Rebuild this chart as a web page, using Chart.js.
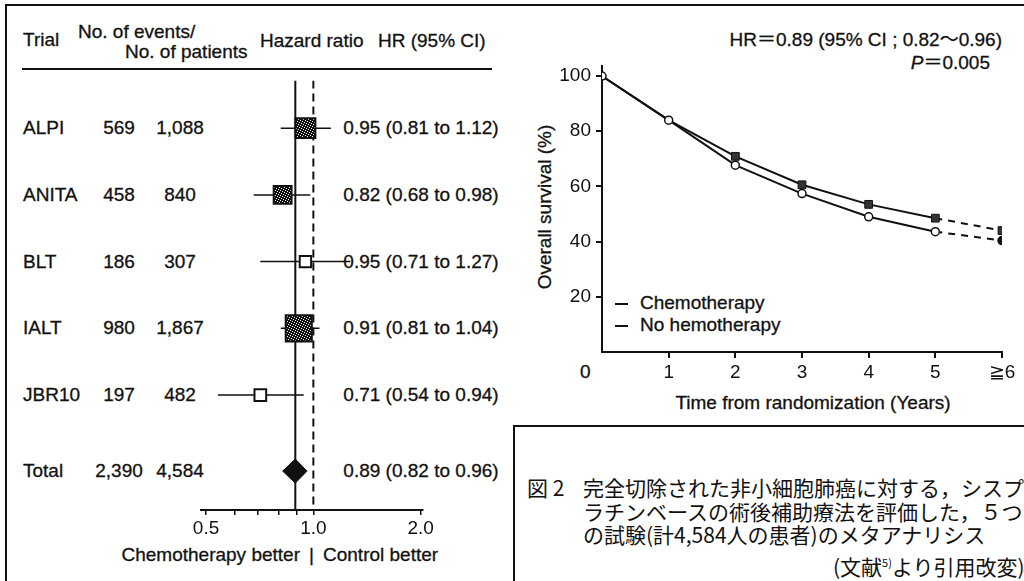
<!DOCTYPE html>
<html>
<head>
<meta charset="utf-8">
<script src="https://cdn.jsdelivr.net/npm/chart.js@4.4.0/dist/chart.umd.min.js"></script>
<style>
html, body { margin: 0; padding: 0; background: #fff; }
body {
  width: 1024px; height: 581px; position: relative; overflow: hidden;
  font-family: "Liberation Sans", Arial, "Noto Sans CJK JP", sans-serif;
  font-size: 19px; color: #111;
}
.t { position: absolute; white-space: nowrap; line-height: 22px; -webkit-text-stroke: 0.3px #111; }
.c { text-align: center; }
.r { text-align: right; }
.line { position: absolute; background: #111; }
#forestBox { position: absolute; left: 150px; top: 60px; width: 320px; height: 480px; }
#survBox { position: absolute; left: 520px; top: 50px; width: 504px; height: 342px; }
#caption {
  position: absolute; left: 513px; top: 425px; width: 530px; height: 200px;
  border: 2px solid #111; box-sizing: border-box;
}
.jp { font-family: "Noto Sans CJK JP", sans-serif; font-size: 21px; line-height: 23.5px; -webkit-text-stroke: 0; }
.key { display: inline-block; width: 13px; height: 2px; background: #111; vertical-align: middle; margin-right: 12px; }
</style>
</head>
<body>
<div class="line" style="left:5px;top:4px;width:1019px;height:2px"></div>
<div class="line" style="left:5px;top:4px;width:2px;height:577px"></div>

<!-- forest plot header -->
<div class="t" style="left:23px;top:29px">Trial</div>
<div class="t" style="left:78px;top:21px">No. of events/</div>
<div class="t" style="left:125px;top:41px">No. of patients</div>
<div class="t" style="left:260px;top:30px">Hazard ratio</div>
<div class="t" style="left:378px;top:30px">HR (95% CI)</div>
<div class="line" style="left:22px;top:68px;width:470px;height:2px"></div>
<div id="rows"></div>
<div class="t r" style="left:60px;top:544px;width:240px">Chemotherapy better</div>
<div class="t" style="left:309px;top:544px">|</div>
<div class="t" style="left:323px;top:544px">Control better</div>

<div id="forestBox"><canvas id="forest" width="320" height="480"></canvas></div>

<!-- survival plot texts -->
<div class="t r" style="left:602px;top:29px;width:400px">HR＝0.89 (95% CI ; 0.82～0.96)</div>
<div class="t r" style="left:602px;top:52px;width:388px"><i>P</i>＝0.005</div>
<div class="t c" style="left:395px;top:196px;width:300px;transform:rotate(-90deg)">Overall survival (%)</div>
<div class="t" style="left:615px;top:292px"><span class="key"></span>Chemotherapy</div>
<div class="t" style="left:615px;top:314px"><span class="key"></span>No hemotherapy</div>
<div class="t" style="left:580px;top:361px">0</div>
<div class="t c" style="left:613px;top:392px;width:400px">Time from randomization (Years)</div>

<div id="survBox"><canvas id="survival" width="504" height="342"></canvas></div>

<div id="caption"></div>
<div class="t jp" style="left:527px;top:476px">図 2</div>
<div class="t jp" style="left:583px;top:476px">完全切除された非小細胞肺癌に対する，シスプ</div>
<div class="t jp" style="left:583px;top:500px">ラチンベースの術後補助療法を評価した，５つ</div>
<div class="t jp" style="left:583px;top:523px">の試験(計4,584人の患者)のメタアナリシス</div>
<div class="t jp" style="left:833px;top:551px">(文献<sup style="font-size:11px">5)</sup>より引用改変)</div>

<script>
// forest plot data
const trials = ["ALPI", "ANITA", "BLT", "IALT", "JBR10"]
const events = [569, 458, 186, 980, 197]
const patients = [1088, 840, 307, 1867, 482]
const hr = [0.95, 0.82, 0.95, 0.91, 0.71]
const ciLow = [0.81, 0.68, 0.71, 0.81, 0.54]
const ciHigh = [1.12, 0.98, 1.27, 1.04, 0.94]
const totalEvents = 2390
const totalPatients = 4584
const totalHr = 0.89
const totalLow = 0.82
const totalHigh = 0.96
const hrTicks = [0.5, 0.6, 0.7, 0.8, 0.9, 1.0, 2.0]
const hrTickLabels = ["0.5", "", "", "", "", "1.0", "2.0"]

// survival curve data
const years = [0, 1, 2, 3, 4, 5, 6]
const yearLabels = ["0", "1", "2", "3", "4", "5", "≧6"]
const chemo = [100, 84, 70.9, 60.6, 53.5, 48.5, 44.0]
const noChemo = [100, 84, 67.7, 57.4, 49.0, 43.6, 40.4]
const survivalTicks = [20, 40, 60, 80, 100]

const INK = "#111"
const FONT = { family: "Liberation Sans", size: 19 }
const totalRow = trials.length + 0.14
const yMin = -0.715, yMax = 5.723

// speckled fill like the printed squares
const pc = document.createElement("canvas")
pc.width = pc.height = 5
const pg = pc.getContext("2d")
pg.fillStyle = INK
pg.fillRect(0, 0, 5, 5)
pg.fillStyle = "#fff"
;[[0, 0], [2, 1], [4, 2], [1, 3], [3, 4]].forEach(([a, b]) => pg.fillRect(a, b, 1, 1))
const speckle = pg.createPattern(pc, "repeat")

const sizes = events.map((e) => 0.59 * Math.sqrt(e))

const ciSets = trials.map((t, i) => ({
  type: "line",
  order: 2,
  data: [{ x: ciLow[i], y: i }, { x: ciHigh[i], y: i }],
  borderColor: INK,
  borderWidth: 1.5,
  pointRadius: 0,
}))

const forest = new Chart(document.getElementById("forest"), {
  type: "scatter",
  data: {
    datasets: [
      {
        order: 0,
        data: trials.map((t, i) => ({ x: hr[i], y: i })),
        pointStyle: "rect",
        pointRadius: sizes,
        backgroundColor: sizes.map((s) => (s > 10 ? speckle : "#fff")),
        borderColor: INK,
        borderWidth: 2,
      },
      {
        type: "line",
        order: 1,
        data: [
          { x: totalLow, y: totalRow },
          { x: totalHr, y: totalRow - 0.18 },
          { x: totalHigh, y: totalRow },
          { x: totalHr, y: totalRow + 0.18 },
          { x: totalLow, y: totalRow },
        ],
        borderColor: INK,
        borderWidth: 1,
        backgroundColor: INK,
        fill: "shape",
        pointRadius: 0,
      },
      ...ciSets,
      {
        type: "line",
        order: 3,
        data: [{ x: totalHr, y: yMin }, { x: totalHr, y: yMax }],
        borderColor: INK,
        borderWidth: 2,
        pointRadius: 0,
      },
      {
        type: "line",
        order: 3,
        data: [{ x: 1, y: yMin }, { x: 1, y: yMax }],
        borderColor: INK,
        borderWidth: 2,
        borderDash: [8, 5],
        pointRadius: 0,
      },
    ],
  },
  options: {
    responsive: false,
    animation: false,
    devicePixelRatio: 1,
    layout: { padding: { top: 9, left: 51, right: 47, bottom: 0 } },
    plugins: { legend: { display: false }, tooltip: { enabled: false } },
    scales: {
      x: {
        type: "logarithmic",
        min: 0.484,
        max: 2.03,
        afterBuildTicks: (s) => { s.ticks = hrTicks.map((v) => ({ value: v })) },
        afterFit: (s) => { s.height = 30 },
        ticks: {
          autoSkip: false,
          maxRotation: 0,
          padding: 2,
          color: INK,
          font: FONT,
          callback: (v, i) => hrTickLabels[i],
        },
        grid: { drawOnChartArea: false, tickLength: 5, color: INK, lineWidth: 1.5 },
        border: { color: INK, width: 2 },
      },
      y: { display: false, reverse: true, min: yMin, max: yMax },
    },
  },
})

// table text placed on the forest rows
const rowsEl = document.getElementById("rows")
const addText = (txt, left, width, y, align) => {
  const d = document.createElement("div")
  d.className = "t"
  d.style.left = left + "px"
  d.style.top = (60 + forest.scales.y.getPixelForValue(y) - 11) + "px"
  if (width) { d.style.width = width + "px"; d.style.textAlign = align }
  d.textContent = txt
  rowsEl.appendChild(d)
}
const fmt = (n) => n.toLocaleString("en-US")
const ciText = (h, lo, hi) => `${h.toFixed(2)} (${lo.toFixed(2)} to ${hi.toFixed(2)})`
trials.forEach((t, i) => {
  addText(t, 23, 0, i)
  addText(String(events[i]), 69, 100, i, "center")
  addText(fmt(patients[i]), 130, 100, i, "center")
  addText(ciText(hr[i], ciLow[i], ciHigh[i]), 321, 200, i, "center")
})
addText("Total", 23, 0, totalRow)
addText(fmt(totalEvents), 69, 100, totalRow, "center")
addText(fmt(totalPatients), 130, 100, totalRow, "center")
addText(ciText(totalHr, totalLow, totalHigh), 321, 200, totalRow, "center")

const dashAfter5 = { borderDash: (ctx) => (ctx.p0DataIndex >= 5 ? [7, 6] : undefined) }

new Chart(document.getElementById("survival"), {
  type: "line",
  data: {
    datasets: [
      {
        label: "No hemotherapy",
        data: years.map((x, i) => ({ x, y: noChemo[i] })),
        borderColor: INK,
        borderWidth: 2,
        pointStyle: "circle",
        pointRadius: 4,
        pointBorderWidth: 1.5,
        pointBorderColor: INK,
        pointBackgroundColor: years.map((x) => (x === 6 ? INK : "#fff")),
        segment: dashAfter5,
      },
      {
        label: "Chemotherapy",
        data: years.map((x, i) => ({ x, y: chemo[i] })),
        borderColor: INK,
        borderWidth: 2,
        pointStyle: "rect",
        pointRadius: years.map((x) => (x < 2 ? 0 : 5.5)),
        pointBorderWidth: 1,
        pointBorderColor: INK,
        pointBackgroundColor: "#333",
        segment: dashAfter5,
      },
    ],
  },
  options: {
    responsive: false,
    animation: false,
    devicePixelRatio: 1,
    layout: { padding: { top: 12, left: 0, right: 22, bottom: 0 } },
    plugins: { legend: { display: false }, tooltip: { enabled: false } },
    scales: {
      x: {
        type: "linear",
        min: 0,
        max: 6,
        afterBuildTicks: (s) => { s.ticks = years.slice(1).map((v) => ({ value: v })) },
        afterFit: (s) => { s.height = 40 },
        ticks: {
          autoSkip: false,
          maxRotation: 0,
          padding: 3,
          color: INK,
          font: FONT,
          callback: (v) => yearLabels[years.indexOf(v)],
        },
        grid: { drawOnChartArea: false, tickLength: 6, color: INK, lineWidth: 2 },
        border: { color: INK, width: 2 },
      },
      y: {
        min: 0,
        max: 103.5,
        afterBuildTicks: (s) => { s.ticks = survivalTicks.map((v) => ({ value: v })) },
        afterFit: (s) => { s.width = 82 },
        ticks: { padding: 5, color: INK, font: FONT },
        grid: { drawOnChartArea: false, tickLength: 6, color: INK, lineWidth: 2 },
        border: { color: INK, width: 2 },
      },
    },
  },
})
</script>
</body>
</html>
